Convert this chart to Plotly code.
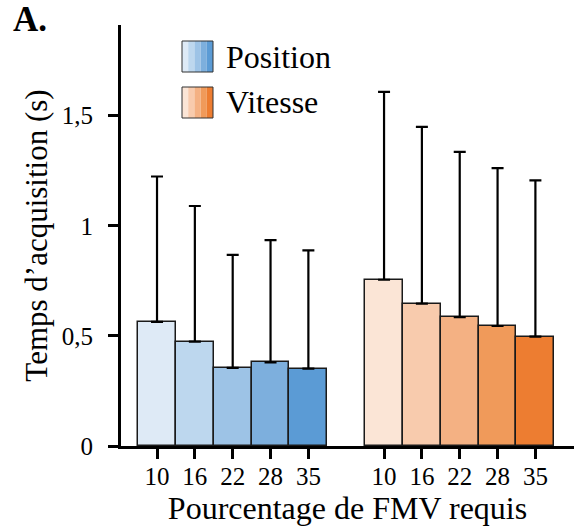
import plotly.graph_objects as go

# ---- data ----
percent_labels = ["10", "16", "22", "28", "35"]
position_mean = [0.564, 0.474, 0.355, 0.380, 0.351]
position_upper = [1.224, 1.090, 0.868, 0.935, 0.888]
vitesse_mean = [0.755, 0.647, 0.585, 0.545, 0.497]
vitesse_upper = [1.608, 1.449, 1.336, 1.262, 1.206]
group_names = ["Position", "Vitesse"]
y_tick_vals = [0, 0.5, 1, 1.5]
y_tick_text = ["0", "0,5", "1", "1,5"]

# ---- styles ----
pos_colors = ["#DEEAF6", "#BDD7EE", "#9DC3E6", "#7DAFDD", "#5B9BD5"]
vit_colors = ["#FBE5D6", "#F8CBAD", "#F4B183", "#F09A5A", "#ED7D31"]
FONT = "Liberation Serif"

OFF = 0  # page body margin removed via post_script
W, H = 574 - OFF, 528 - OFF
ML, MR, MT, MB = 121, 0, 25, 82
PW, PH = W - ML - MR, H - MT - MB

def px(xs):  # screen x -> paper
    return (xs - OFF - ML) / PW

def py(ys):  # screen y -> paper
    return (H - MB - (ys - OFF)) / PH

n = len(percent_labels)
pos_x = list(range(n))
vit_x = [n + 1 + i for i in range(n)]

fig = go.Figure()

for xs, means, uppers, cols in [(pos_x, position_mean, position_upper, pos_colors),
                                (vit_x, vitesse_mean, vitesse_upper, vit_colors)]:
    fig.add_trace(go.Bar(
        x=xs, y=means, width=1,
        marker=dict(color=cols, line=dict(color="#1a1a1a", width=1.5)),
        error_y=dict(type="data", symmetric=False,
                     array=[u - m for u, m in zip(uppers, means)],
                     arrayminus=[0] * len(means),
                     color="black", thickness=2.2, width=6),
        showlegend=False, hoverinfo="skip",
    ))

shapes = []
annotations = []
# custom striped legend
leg_x0 = 182
leg_size = 31
for gi, (name, cols) in enumerate(zip(group_names, [pos_colors, vit_colors])):
    y_top = 41 + gi * 46
    sw = leg_size / len(cols)
    for k, c in enumerate(cols):
        shapes.append(dict(type="rect", xref="paper", yref="paper",
                           x0=px(leg_x0 + k * sw), x1=px(leg_x0 + (k + 1) * sw),
                           y0=py(y_top + leg_size), y1=py(y_top),
                           fillcolor=c, line=dict(width=0), layer="above"))
    shapes.append(dict(type="rect", xref="paper", yref="paper",
                       x0=px(leg_x0), x1=px(leg_x0 + leg_size),
                       y0=py(y_top + leg_size), y1=py(y_top),
                       line=dict(color="#333333", width=1), layer="above"))
    annotations.append(dict(text=name, xref="paper", yref="paper",
                            x=px(leg_x0 + leg_size + 11), y=py(y_top + leg_size / 2),
                            xanchor="left", yanchor="middle", showarrow=False,
                            font=dict(family=FONT, size=32, color="black")))

annotations.append(dict(text="<b>A.</b>", xref="paper", yref="paper",
                        x=px(11), y=py(20), xanchor="left", yanchor="middle",
                        showarrow=False,
                        font=dict(family=FONT, size=35, color="black")))

fig.update_layout(
    width=W, height=H,
    margin=dict(l=ML, r=MR, t=MT, b=MB),
    paper_bgcolor="white", plot_bgcolor="white",
    font=dict(family=FONT, size=24, color="black"),
    barmode="overlay", bargap=0,
    shapes=shapes, annotations=annotations,
    showlegend=False,
)
fig.update_xaxes(
    range=[-0.952, 11.02],
    tickvals=pos_x + vit_x, ticktext=percent_labels + percent_labels,
    ticks="outside", ticklen=10, tickwidth=3, tickcolor="black",
    showline=True, linewidth=3, linecolor="black",
    showgrid=False, zeroline=False,
    ticklabelstandoff=-4,
    tickfont=dict(family=FONT, size=25, color="black"),
    title=dict(text="Pourcentage de FMV requis",
               font=dict(family=FONT, size=32, color="black"), standoff=3),
)
fig.update_yaxes(
    range=[0, 1.912],
    tickvals=y_tick_vals, ticktext=y_tick_text,
    ticks="outside", ticklen=10, tickwidth=3, tickcolor="black",
    showline=True, linewidth=3, linecolor="black",
    showgrid=False, zeroline=False,
    ticklabelstandoff=10,
    tickfont=dict(family=FONT, size=25, color="black"),
    title=dict(text="Temps d\u2019acquisition (s)",
               font=dict(family=FONT, size=31, color="black"), standoff=5),
)

fig.write_html("out.html",
               config={"displayModeBar": False},
               post_script="document.body.style.margin='0';document.body.style.overflow='hidden';")
